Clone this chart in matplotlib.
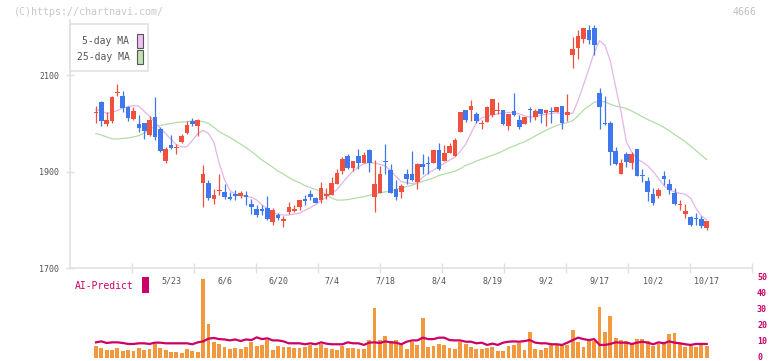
import numpy as np
import matplotlib
matplotlib.use("Agg")
import matplotlib.pyplot as plt
from matplotlib.patches import Rectangle
from matplotlib.transforms import ScaledTranslation

# daily candles
opens = [2022, 2044, 1998, 2006, 2063, 2056, 2035, 2009, 1998, 2001,
         1977, 2013, 1988, 1922, 1955, 1949, 1961, 1981, 2005, 1994,
         1877, 1877, 1843, 1859, 1857, 1848, 1853, 1850, 1851, 1832,
         1823, 1822, 1824, 1796, 1810, 1797, 1816, 1819, 1827, 1844,
         1853, 1846, 1841, 1849, 1851, 1875, 1901, 1932, 1908, 1932,
         1918, 1944, 1848, 1856, 1920, 1903, 1864, 1858, 1896, 1896,
         1879, 1915, 1916, 1918, 1944, 1923, 1938, 1932, 1982, 2028,
         2029, 2019, 1999, 2004, 2017, 2026, 2029, 1995, 2025, 2008,
         1999, 2029, 2013, 2031, 2021, 2024, 2023, 2037, 2017, 2143,
         2156, 2176, 2195, 2199, 2064, 2000, 2002, 1942, 1896, 1936,
         1917, 1946, 1892, 1880, 1853, 1850, 1892, 1874, 1855, 1831,
         1812, 1806, 1802, 1801, 1783]
highs = [2037, 2046, 2024, 2058, 2081, 2068, 2037, 2034, 2017, 2002,
         2015, 2055, 1993, 1951, 1977, 1957, 1979, 2006, 2012, 2009,
         1913, 1882, 1865, 1895, 1874, 1858, 1861, 1860, 1859, 1844,
         1830, 1830, 1849, 1824, 1815, 1807, 1837, 1830, 1841, 1851,
         1861, 1848, 1879, 1867, 1888, 1905, 1931, 1937, 1922, 1948,
         1940, 1948, 1924, 1911, 1957, 1915, 1882, 1875, 1906, 1942,
         1917, 1936, 1932, 1944, 1959, 1955, 1959, 1970, 2023, 2028,
         2048, 2023, 2008, 2037, 2050, 2044, 2029, 2019, 2064, 2017,
         2013, 2035, 2030, 2031, 2029, 2035, 2035, 2037, 2062, 2180,
         2193, 2199, 2205, 2205, 2073, 2056, 2006, 1951, 1927, 1940,
         1940, 1946, 1905, 1889, 1866, 1866, 1901, 1884, 1866, 1841,
         1832, 1808, 1814, 1808, 1797]
lows = [2001, 1995, 1994, 2001, 2058, 2024, 2006, 2007, 1982, 1968,
        1975, 1965, 1941, 1918, 1946, 1937, 1960, 1979, 1994, 1975,
        1827, 1841, 1833, 1851, 1843, 1841, 1841, 1846, 1830, 1812,
        1806, 1810, 1799, 1789, 1799, 1786, 1813, 1817, 1821, 1830,
        1841, 1834, 1834, 1844, 1851, 1875, 1895, 1906, 1901, 1906,
        1917, 1900, 1817, 1856, 1895, 1856, 1842, 1846, 1875, 1881,
        1865, 1895, 1895, 1918, 1903, 1923, 1938, 1932, 1982, 2003,
        2005, 2001, 1988, 2003, 2013, 2020, 1997, 1986, 2015, 1988,
        1999, 2003, 2007, 2001, 1995, 2001, 2023, 1988, 2006, 2115,
        2133, 2167, 2166, 2143, 1988, 1996, 1913, 1913, 1895, 1909,
        1906, 1891, 1879, 1839, 1830, 1846, 1872, 1853, 1830, 1820,
        1803, 1787, 1789, 1784, 1779]
closes = [2023, 2006, 2008, 2054, 2064, 2032, 2012, 2025, 1991, 1984,
          2008, 1972, 1943, 1946, 1950, 1950, 1973, 1996, 1998, 2008,
          1896, 1845, 1851, 1860, 1848, 1843, 1849, 1856, 1848, 1827,
          1810, 1819, 1801, 1820, 1804, 1802, 1826, 1823, 1841, 1839,
          1848, 1834, 1866, 1853, 1877, 1898, 1927, 1908, 1922, 1918,
          1934, 1917, 1874, 1895, 1919, 1856, 1848, 1870, 1884, 1882,
          1915, 1910, 1915, 1944, 1906, 1938, 1953, 1965, 2023, 2008,
          2037, 2005, 2000, 2035, 2050, 2027, 1999, 2019, 2017, 1992,
          2013, 2028, 2025, 2019, 2029, 2023, 2035, 2001, 2023, 2155,
          2182, 2199, 2174, 2162, 2034, 1999, 1941, 1915, 1918, 1921,
          1936, 1891, 1891, 1857, 1835, 1861, 1884, 1861, 1832, 1832,
          1818, 1789, 1801, 1787, 1797]

ma5 = [2028, 2026, 2021, 2023, 2027, 2032, 2035, 2037, 2036, 2025,
       2015, 2003, 1990, 1979, 1967, 1956, 1951, 1952, 1965, 1979,
       1986, 1979, 1961, 1917, 1883, 1861, 1853, 1850, 1849, 1847,
       1841, 1831, 1823, 1815, 1811, 1810, 1810, 1812, 1814, 1820,
       1825, 1832, 1840, 1847, 1855, 1863, 1877, 1890, 1901, 1910,
       1916, 1919, 1918, 1915, 1912, 1902, 1890, 1879, 1877, 1875,
       1877, 1888, 1897, 1903, 1911, 1917, 1924, 1930, 1942, 1957,
       1980, 2001, 2012, 2015, 2018, 2020, 2022, 2023, 2022, 2020,
       2016, 2013, 2014, 2017, 2019, 2021, 2022, 2021, 2021, 2021,
       2048, 2080, 2113, 2147, 2172, 2162, 2130, 2076, 2025, 1962,
       1941, 1926, 1920, 1912, 1900, 1886, 1871, 1862, 1858, 1855,
       1853, 1845, 1824, 1808, 1800]
ma25 = [1979, 1976, 1972, 1968, 1968, 1969, 1970, 1972, 1975, 1980,
        1988, 1994, 1996, 1998, 2000, 2002, 2003, 2004, 2005, 2005,
        2004, 2000, 1992, 1983, 1977, 1971, 1964, 1957, 1950, 1942,
        1933, 1924, 1917, 1909, 1901, 1895, 1888, 1882, 1877, 1871,
        1867, 1863, 1859, 1852, 1845, 1841, 1841, 1842, 1844, 1846,
        1848, 1851, 1853, 1856, 1858, 1860, 1863, 1866, 1869, 1872,
        1876, 1880, 1883, 1887, 1892, 1895, 1898, 1901, 1906, 1913,
        1917, 1922, 1926, 1930, 1934, 1938, 1943, 1949, 1953, 1958,
        1962, 1968, 1974, 1980, 1986, 1991, 1996, 1999, 2002, 2006,
        2016, 2028, 2036, 2044, 2046, 2045, 2040, 2036, 2034, 2031,
        2026, 2020, 2014, 2008, 2003, 1998, 1992, 1985, 1977, 1970,
        1962, 1953, 1944, 1934, 1925]

volume = [7.8, 6.4, 5.2, 5.2, 6.4, 4.5, 5.2, 4.5, 6.4, 5.2,
          5.8, 8.9, 6.4, 5.2, 3.9, 3.9, 3.3, 5.8, 4.5, 3.9,
          49.0, 21.3, 10.1, 8.9, 7.0, 5.8, 6.4, 5.8, 7.0, 10.1,
          7.6, 8.3, 11.4, 5.2, 7.6, 7.0, 7.0, 6.4, 6.4, 7.0,
          8.3, 6.4, 8.9, 6.4, 5.8, 5.2, 7.6, 6.4, 6.4, 5.8,
          5.8, 11.4, 31.2, 11.4, 13.9, 10.8, 11.4, 8.3, 5.8, 10.1,
          8.3, 25.0, 7.0, 7.6, 8.9, 8.3, 6.4, 5.8, 10.1, 8.9,
          7.0, 5.8, 5.8, 6.4, 7.0, 4.5, 4.5, 7.6, 8.3, 9.5,
          5.2, 16.3, 5.8, 5.2, 6.4, 8.3, 8.3, 8.3, 8.3, 17.6,
          10.1, 7.0, 10.8, 10.5, 31.9, 16.3, 26.3, 12.6, 11.4, 10.8,
          8.9, 12.0, 12.0, 10.8, 7.6, 8.9, 8.9, 15.1, 15.7, 8.9,
          7.0, 7.6, 7.0, 8.3, 7.6]
ai_predict = [9.9, 10.5, 9.5, 9.9, 9.9, 9.5, 8.9, 8.9, 9.3, 9.3,
              8.9, 9.7, 9.7, 9.3, 9.3, 9.3, 9.3, 9.3, 8.7, 9.9,
              10.5, 12.2, 12.6, 11.9, 11.7, 11.1, 11.7, 10.7, 11.7, 11.3,
              13.0, 11.9, 12.4, 11.1, 11.1, 10.5, 9.3, 9.3, 9.3, 8.7,
              9.3, 8.7, 9.9, 9.1, 8.7, 8.7, 8.7, 9.9, 9.3, 9.3,
              8.3, 9.7, 9.9, 9.5, 10.5, 9.9, 9.7, 8.7, 10.3, 11.1,
              11.1, 12.8, 11.9, 11.9, 12.8, 12.8, 11.3, 11.1, 11.1, 10.3,
              10.3, 9.3, 9.7, 8.3, 9.1, 8.3, 9.7, 10.3, 10.5, 10.3,
              10.7, 11.3, 9.7, 9.3, 9.3, 8.7, 8.7, 8.3, 9.7, 11.3,
              12.8, 11.9, 11.3, 11.9, 8.3, 8.3, 8.9, 9.9, 9.7, 9.7,
              8.9, 9.7, 10.3, 9.7, 8.7, 9.9, 9.3, 10.5, 9.7, 9.3,
              8.7, 8.3, 8.9, 8.9, 8.9]

date_labels = ["5/23", "6/6", "6/20", "7/4", "7/18", "8/4",
               "8/19", "9/2", "9/17", "10/2", "10/17"]
date_pos = [14, 24, 34, 44, 54, 64, 74, 84, 94, 104, 114]
price_ticks = [1700, 1900, 2100]
vol_ticks = [0, 10, 20, 30, 40, 50]

RED = "#f0503e"
BLUE = "#3f78ee"
PINK = "#e6b4e6"
GREEN = "#b4dca8"
ORANGE = "#f2993f"
MAGENTA = "#cc0066"
AXIS = "#e0e0e0"
TXT = "#555555"
MONO = "DejaVu Sans Mono"

W, H = 772, 361
fig = plt.figure(figsize=(W / 100, H / 100), dpi=100)


def box(x0, y0, x1, y1):
    return [x0 / W, 1 - y1 / H, (x1 - x0) / W, (y1 - y0) / H]


step = 5.357
x_first = 96.0
xlim = ((70 - x_first) / step, (752 - x_first) / step)

axv = fig.add_axes(box(70, 277.7, 752, 358.3))
ax = fig.add_axes(box(70, 20, 752, 268))
ax.patch.set_visible(False)
axv.patch.set_visible(False)

idx = np.arange(len(opens))
o = np.array(opens, float)
c = np.array(closes, float)
col = np.where(c >= o, RED, BLUE)

ax.plot(idx, ma25, color=GREEN, lw=0.9, zorder=2)
ax.plot(idx, ma5, color=PINK, lw=0.9, zorder=2)
ax.vlines(idx, lows, highs, colors=col, lw=0.9, zorder=3)
ax.bar(idx, np.maximum(np.abs(c - o), 2.2), bottom=np.minimum(o, c),
       width=0.86, color=col, linewidth=0, zorder=4)

ax.set_xlim(*xlim)
ax.set_ylim(1700, 1700 + 248 * 400 / 192.7)
for s in ["top", "right"]:
    ax.spines[s].set_visible(False)
for s in ["left", "bottom"]:
    ax.spines[s].set_color(AXIS)
    ax.spines[s].set_linewidth(1.2)
ax.set_yticks(price_ticks)
ax.set_yticklabels([str(t) for t in price_ticks], fontsize=6, color=TXT,
                   family=MONO)
ax.tick_params(axis="y", direction="inout", length=5.8, width=1,
               color=AXIS, pad=4.8)
ax.set_xticks([(70 + 62 * k - x_first) / step for k in range(1, 12)])
ax.set_xticklabels([])
ax.tick_params(axis="x", direction="inout", length=7, width=1, color=AXIS)

for lab, p in zip(date_labels, date_pos):
    ax.text(p, -13.5 / 248, lab, transform=ax.get_xaxis_transform(),
            ha="center", va="center", fontsize=6, color=TXT, family=MONO)

# volume pane
axv.bar(idx, volume, width=0.72, color=ORANGE, linewidth=0, zorder=2)
axv.plot(idx, ai_predict, color=MAGENTA, lw=1.6, zorder=3)
axv.set_xlim(*xlim)
axv.set_ylim(0, 50)
for s in axv.spines.values():
    s.set_visible(False)
axv.set_xticks([])
axv.yaxis.tick_right()
axv.set_yticks(vol_ticks)
axv.set_yticklabels([str(t) for t in vol_ticks], fontsize=6, color=MAGENTA,
                    family=MONO, fontweight="bold")
axv.tick_params(axis="y", length=0, pad=3.6)
nudge = ScaledTranslation(0, 1.5 / 100, fig.dpi_scale_trans)
for lab in axv.get_yticklabels():
    lab.set_transform(lab.get_transform() + nudge)

# legend
fig.patches.append(Rectangle((70 / W, 1 - 71 / H), 78 / W, 47 / H,
                             transform=fig.transFigure, facecolor="white",
                             edgecolor=AXIS, lw=1.2, zorder=10))
for y, lab, fc in [(40.5, "5-day MA", "#f0c0f0"), (56.5, "25-day MA", "#c0e0b0")]:
    fig.text(129.5 / W, 1 - y / H, lab, ha="right", va="center", fontsize=7,
             color=TXT, family=MONO, zorder=11)
    fig.patches.append(Rectangle((136.5 / W, 1 - (y + 7) / H), 6.3 / W, 14 / H,
                                 transform=fig.transFigure, facecolor=fc,
                                 edgecolor="#555555", lw=0.8, zorder=11))

fig.text(75 / W, 1 - 286 / H, "AI-Predict", ha="left", va="center",
         fontsize=7, color=MAGENTA, family=MONO)
fig.patches.append(Rectangle((142 / W, 1 - 292.7 / H), 6.5 / W, 15.7 / H,
                             transform=fig.transFigure, facecolor=MAGENTA,
                             edgecolor="none"))

fig.text(14 / W, 1 - 12 / H, "(C)https://chartnavi.com/", ha="left",
         va="center", fontsize=7.2, color="#c8c8c8", family=MONO)
fig.text(757 / W, 1 - 12 / H, "4666", ha="right", va="center",
         fontsize=7.2, color="#c0c0c0", family=MONO)

fig.savefig("out.png", dpi=100)
